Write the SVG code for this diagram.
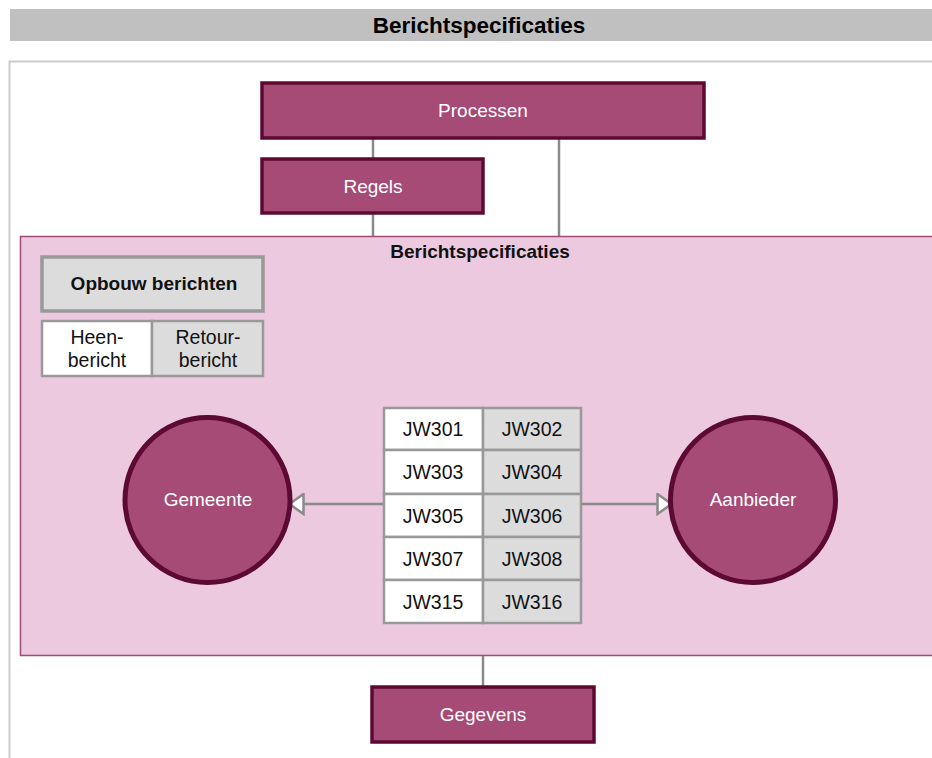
<svg xmlns="http://www.w3.org/2000/svg" width="932" height="758" viewBox="0 0 932 758">
<style>
text{font-family:"Liberation Sans",Arial,sans-serif}
.pb{fill:#a54b75;stroke:#5c0a33;stroke-width:3.5}
.pt{fill:#ffffff;font-size:19px;text-anchor:middle}
.cell{stroke:#999999;stroke-width:2.5}
.ct{fill:#111111;font-size:19.5px;text-anchor:middle}
.con{stroke:#8a8a8a;stroke-width:2.5;fill:none}
</style>
<defs>
<marker id="tri" viewBox="0 0 17 23" refX="16" refY="11.5" markerWidth="17" markerHeight="23" markerUnits="userSpaceOnUse" orient="auto">
<path d="M1.5,1.5 L15.5,11.5 L1.5,21.5 Z" fill="#ffffff" stroke="#8a8a8a" stroke-width="2.5"/>
</marker>
</defs>
<rect x="0" y="0" width="932" height="758" fill="#ffffff"/>
<rect x="10" y="9" width="930" height="32" fill="#c0c0c0"/>
<text x="479" y="33" font-size="22.5" font-weight="bold" text-anchor="middle" fill="#000">Berichtspecificaties</text>
<rect x="9.5" y="61.5" width="940" height="710" fill="#ffffff" stroke="#cccccc" stroke-width="2"/>
<g id="connectors">
<line class="con" x1="373" y1="139" x2="373" y2="158"/>
<line class="con" x1="373" y1="214" x2="373" y2="236"/>
<line class="con" x1="559" y1="139" x2="559" y2="236"/>
<line class="con" x1="483" y1="656" x2="483" y2="686"/>
</g>
<g id="container">
<rect x="20.5" y="236.5" width="930" height="419" fill="#ecc9df" stroke="#a04a78" stroke-width="1.5"/>
<text x="480" y="258" font-size="19" font-weight="bold" text-anchor="middle" fill="#111">Berichtspecificaties</text>
</g>
<g id="processen"><rect class="pb" x="262" y="83" width="442" height="55"/><text class="pt" x="483" y="117">Processen</text></g>
<g id="regels"><rect class="pb" x="262" y="159" width="221" height="54"/><text class="pt" x="373" y="193">Regels</text></g>
<g id="gegevens"><rect class="pb" x="372" y="687" width="222" height="55"/><text class="pt" x="483" y="721">Gegevens</text></g>
<g id="opbouw">
<rect x="42" y="257" width="221" height="54" fill="#dcdcdc" stroke="#999999" stroke-width="3.5"/>
<text x="154" y="290" font-size="19" font-weight="bold" text-anchor="middle" fill="#111">Opbouw berichten</text>
</g>
<g id="heen"><rect class="cell" x="42" y="321" width="110" height="55" fill="#ffffff"/><text class="ct" x="97" y="344">Heen-</text><text class="ct" x="97" y="367">bericht</text></g>
<g id="retour"><rect class="cell" x="152" y="321" width="111" height="55" fill="#dcdcdc"/><text class="ct" x="208" y="344">Retour-</text><text class="ct" x="208" y="367">bericht</text></g>
<g id="table">
<rect class="cell" x="384" y="408" width="99" height="42" fill="#fff"/><rect class="cell" x="483" y="408" width="98" height="42" fill="#dcdcdc"/>
<rect class="cell" x="384" y="450" width="99" height="44" fill="#fff"/><rect class="cell" x="483" y="450" width="98" height="44" fill="#dcdcdc"/>
<rect class="cell" x="384" y="494" width="99" height="43" fill="#fff"/><rect class="cell" x="483" y="494" width="98" height="43" fill="#dcdcdc"/>
<rect class="cell" x="384" y="537" width="99" height="43" fill="#fff"/><rect class="cell" x="483" y="537" width="98" height="43" fill="#dcdcdc"/>
<rect class="cell" x="384" y="580" width="99" height="43" fill="#fff"/><rect class="cell" x="483" y="580" width="98" height="43" fill="#dcdcdc"/>
<text class="ct" x="433" y="436">JW301</text><text class="ct" x="532" y="436">JW302</text>
<text class="ct" x="433" y="479">JW303</text><text class="ct" x="532" y="479">JW304</text>
<text class="ct" x="433" y="523">JW305</text><text class="ct" x="532" y="523">JW306</text>
<text class="ct" x="433" y="566">JW307</text><text class="ct" x="532" y="566">JW308</text>
<text class="ct" x="433" y="609">JW315</text><text class="ct" x="532" y="609">JW316</text>
</g>
<g id="arrows">
<line class="con" x1="383" y1="504" x2="289" y2="504" marker-end="url(#tri)"/>
<line class="con" x1="582" y1="504" x2="672" y2="504" marker-end="url(#tri)"/>
</g>
<g id="gemeente"><circle cx="207.5" cy="500" r="82.5" fill="#a54b75" stroke="#5c0a33" stroke-width="5"/><text class="pt" x="208" y="506">Gemeente</text></g>
<g id="aanbieder"><circle cx="753" cy="500" r="82.5" fill="#a54b75" stroke="#5c0a33" stroke-width="5"/><text class="pt" x="753" y="506">Aanbieder</text></g>
</svg>
